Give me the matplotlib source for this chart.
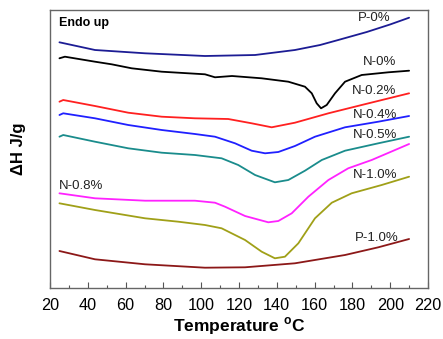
import matplotlib
matplotlib.use("Agg")
import matplotlib.pyplot as plt
from matplotlib.ticker import MultipleLocator

plt.rcParams['font.family'] = ['Liberation Sans', 'DejaVu Sans']

# Data (temperature in °C, heat flow in arbitrary stacked units)
t_p0 = [25, 43.8, 70.3, 102, 128.5, 149.6, 162.9, 172.5, 187.6, 199.9, 210]
y_p0 = [245.7, 238, 234.7, 232, 233, 238, 243, 248, 256, 263.5, 270.3]

t_n0 = [25, 27.9, 43.8, 52.6, 63.2, 79.1, 102, 107.3, 116.3, 132, 146.1, 154.9,
        158.5, 161.1, 163.4, 166.4, 170.8, 176.1, 184.9, 199, 210]
y_n0 = [229.7, 231.3, 226.3, 223.7, 219.7, 216.3, 213.7, 210.7, 212, 209.7, 206.3, 201.3,
        194.7, 184.7, 179.7, 183, 194.7, 206.3, 213, 215.7, 217.3]

t_n02 = [25, 27.0, 43.8, 61.4, 79.1, 96.7, 114.3, 126.7, 137.3, 149.6, 167.3, 184.9, 210]
y_n02 = [186.3, 188, 182, 175.3, 171.3, 169.7, 169, 164.7, 160.7, 165.3, 174.7, 183, 194.7]

t_n04 = [25, 27.0, 43.8, 61.4, 79.1, 96.7, 107.3, 117.9, 126.7, 133.8, 140.8, 149.6,
         160.2, 176.1, 193.7, 210]
y_n04 = [173, 174.7, 169.7, 163, 158, 154, 151.3, 144.7, 137.3, 134.7, 136, 142,
         151.3, 160.7, 166.3, 172]

t_n05 = [25, 27.0, 43.8, 61.4, 79.1, 96.7, 110.8, 119.6, 128.5, 139.0, 146.1, 154.9,
         163.8, 176.1, 193.7, 210]
y_n05 = [151.3, 153, 146.3, 139.7, 135.3, 133, 129.7, 123, 113, 105.7, 108, 117.3,
         128, 137.3, 144.7, 151.3]

t_n08 = [25, 43.8, 70.3, 96.7, 107.3, 112.6, 123.2, 135.5, 140.8, 147.9, 156.7, 167.3,
         177.8, 190.2, 210]
y_n08 = [94.7, 89.7, 87.3, 87.3, 85.3, 81.3, 72, 65.7, 67, 74.7, 91.3, 108,
         119.7, 128, 144]

t_n10 = [25, 43.8, 70.3, 87.9, 102, 110.8, 123.2, 132, 139, 144.3, 151.4, 160.2,
         169.1, 179.6, 195.5, 210]
y_n10 = [84.7, 78, 69.7, 66.3, 63, 59.7, 48, 36.3, 29.7, 31.3, 44.7, 69.7,
         85.3, 94.7, 103, 111.3]

t_p10 = [25, 43.8, 70.3, 102, 123.2, 149.6, 176.1, 193.7, 210]
y_p10 = [37, 28.7, 23.7, 20.3, 20.7, 24.7, 33, 40.7, 49]

labels = ["P-0%", "N-0%", "N-0.2%", "N-0.4%", "N-0.5%", "N-0.8%", "N-1.0%", "P-1.0%"]
colors = ["#1c1c94", "#000000", "#ff2020", "#2020ff", "#1a8c8c", "#ff22ff", "#a0a018", "#8c1818"]
series = [(t_p0, y_p0), (t_n0, y_n0), (t_n02, y_n02), (t_n04, y_n04),
          (t_n05, y_n05), (t_n08, y_n08), (t_n10, y_n10), (t_p10, y_p10)]
label_pos = [(191.4, 269.7), (194.6, 226), (191.7, 196.7), (192, 173.3),
             (192, 153), (36.4, 102), (192, 113), (193, 50)]

fig = plt.figure(figsize=(4.43, 3.39), dpi=100)
ax = fig.add_axes([50/443, 51/339, 378/443, 278/339])

for (t, y), c in zip(series, colors):
    ax.plot(t, y, color=c, lw=1.3, solid_capstyle='round', solid_joinstyle='round')

for lab, (tx, ty) in zip(labels, label_pos):
    ax.text(tx, ty, lab, fontsize=9.5, color='#222222', ha='center', va='center')

ax.text(24.8, 265.3, "Endo up", fontsize=9, fontweight='bold', ha='left', va='center')

ax.set_xlim(20, 220)
ax.set_ylim(0, 278)
ax.xaxis.set_major_locator(MultipleLocator(20))
ax.xaxis.set_minor_locator(MultipleLocator(10))
ax.tick_params(axis='x', which='major', direction='in', length=4.5, width=0.8,
               labelsize=11.7, pad=7, colors='#555555', labelcolor='black')
ax.tick_params(axis='x', which='minor', direction='in', length=2.5, width=0.8, colors='#555555')
ax.set_yticks([])
for s in ax.spines.values():
    s.set_color('#666666')
    s.set_linewidth(1.0)

ax.set_xlabel("Temperature $^\\mathregular{o}$C", fontsize=12.5, fontweight='bold', labelpad=2)
ax.set_ylabel("ΔH J/g", fontsize=12, fontweight='bold', labelpad=17)

fig.savefig("out.png", dpi=100)
